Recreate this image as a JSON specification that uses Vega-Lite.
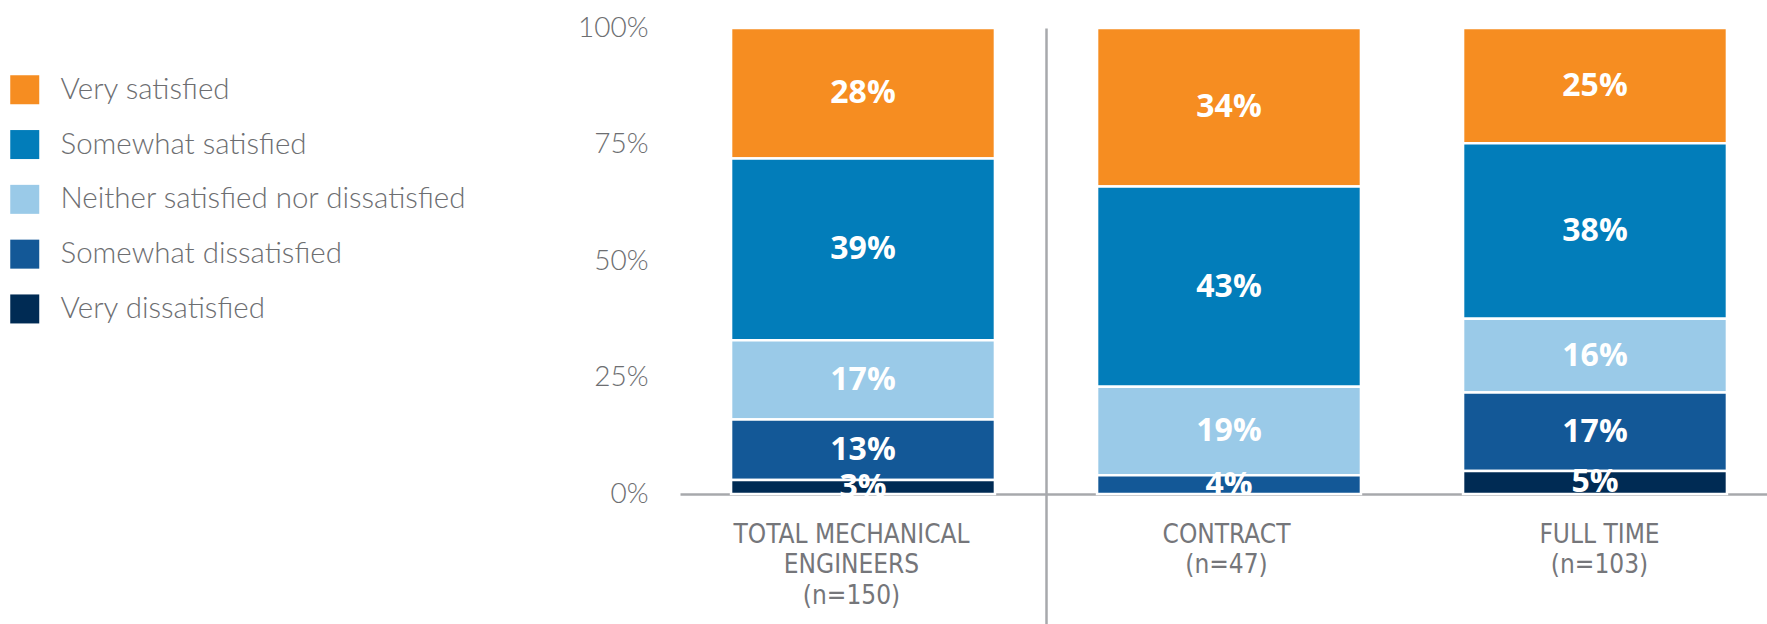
{
  "$schema": "https://vega.github.io/schema/vega-lite/v6.json",
  "autosize": {"type": "none"},
  "padding": {"left": 680, "top": 28, "right": -11, "bottom": 130},
  "width": 1098,
  "height": 466,
  "background": "#ffffff",
  "config": {"view": {"stroke": null}},
  "data": {
    "values": [
      {"group": "TOTAL MECHANICAL|ENGINEERS|(n=150)", "response": "Very satisfied", "level": 5, "share": 0.28},
      {"group": "TOTAL MECHANICAL|ENGINEERS|(n=150)", "response": "Somewhat satisfied", "level": 4, "share": 0.39},
      {"group": "TOTAL MECHANICAL|ENGINEERS|(n=150)", "response": "Neither satisfied nor dissatisfied", "level": 3, "share": 0.17},
      {"group": "TOTAL MECHANICAL|ENGINEERS|(n=150)", "response": "Somewhat dissatisfied", "level": 2, "share": 0.13},
      {"group": "TOTAL MECHANICAL|ENGINEERS|(n=150)", "response": "Very dissatisfied", "level": 1, "share": 0.03},
      {"group": "CONTRACT|(n=47)", "response": "Very satisfied", "level": 5, "share": 0.34},
      {"group": "CONTRACT|(n=47)", "response": "Somewhat satisfied", "level": 4, "share": 0.43},
      {"group": "CONTRACT|(n=47)", "response": "Neither satisfied nor dissatisfied", "level": 3, "share": 0.19},
      {"group": "CONTRACT|(n=47)", "response": "Somewhat dissatisfied", "level": 2, "share": 0.04},
      {"group": "FULL TIME|(n=103)", "response": "Very satisfied", "level": 5, "share": 0.25},
      {"group": "FULL TIME|(n=103)", "response": "Somewhat satisfied", "level": 4, "share": 0.38},
      {"group": "FULL TIME|(n=103)", "response": "Neither satisfied nor dissatisfied", "level": 3, "share": 0.16},
      {"group": "FULL TIME|(n=103)", "response": "Somewhat dissatisfied", "level": 2, "share": 0.17},
      {"group": "FULL TIME|(n=103)", "response": "Very dissatisfied", "level": 1, "share": 0.05}
    ]
  },
  "encoding": {
    "x": {
      "field": "group",
      "type": "nominal",
      "sort": null,
      "scale": {"paddingInner": 0, "paddingOuter": 0},
      "axis": {
        "title": null,
        "labelExpr": "datum.value ? split(datum.value, '|') : ''",
        "labelFont": "DejaVu Sans Condensed",
        "labelFontWeight": "normal",
        "labelFontSize": 26,
        "labelLineHeight": 30.5,
        "labelColor": "#75767a",
        "labelLimit": 400,
        "labelPadding": -103,
        "labelAngle": 0,
        "labelOffset": {"condition": [
          {"test": "datum.value === 'TOTAL MECHANICAL|ENGINEERS|(n=150)'", "value": -12},
          {"test": "datum.value === 'CONTRACT|(n=47)'", "value": -3}
        ], "value": 4},
        "domain": true,
        "domainColor": "#a7a9ac",
        "domainWidth": 2.5,
        "ticks": true,
        "tickBand": "extent",
        "tickSize": 130,
        "tickWidth": 2.5,
        "tickColor": "#a7a9ac",
        "tickOpacity": {"condition": {"test": "datum.value === 'TOTAL MECHANICAL|ENGINEERS|(n=150)'", "value": 1}, "value": 0},
        "grid": true,
        "gridWidth": 2.5,
        "gridColor": "#a7a9ac",
        "gridOpacity": {"condition": {"test": "datum.value === 'TOTAL MECHANICAL|ENGINEERS|(n=150)'", "value": 1}, "value": 0}
      }
    },
    "y": {
      "field": "share",
      "type": "quantitative",
      "stack": "normalize",
      "scale": {"domain": [0, 1]},
      "axis": {
        "title": null,
        "values": [0, 0.25, 0.5, 0.75, 1],
        "format": ".0%",
        "grid": false,
        "domain": false,
        "ticks": false,
        "labelPadding": 32,
        "labelFont": "Lato",
        "labelFontWeight": 300,
        "labelFontSize": 28,
        "labelColor": "#6d6e71"
      }
    },
    "order": {"field": "level", "type": "quantitative", "sort": "ascending"}
  },
  "layer": [
    {
      "mark": {"type": "bar", "stroke": "#ffffff", "strokeWidth": 2.5, "width": {"band": 0.721}},
      "encoding": {
        "color": {
          "field": "response",
          "type": "nominal",
          "scale": {
            "domain": ["Very satisfied", "Somewhat satisfied", "Neither satisfied nor dissatisfied", "Somewhat dissatisfied", "Very dissatisfied"],
            "range": ["#f68d21", "#027dba", "#9acae8", "#135897", "#002b54"]
          },
          "legend": {
            "title": null,
            "orient": "none",
            "legendX": -670,
            "legendY": 47,
            "symbolType": "square",
            "symbolSize": 841,
            "symbolStrokeWidth": 0,
            "symbolOffset": 0,
            "labelOffset": 21,
            "labelFont": "Lato",
            "labelFontWeight": 300,
            "labelFontSize": 29.5,
            "labelColor": "#6d6e71",
            "labelLimit": 500,
            "rowPadding": 23.8
          }
        }
      }
    },
    {
      "mark": {"type": "text", "color": "#ffffff", "font": "Open Sans", "fontWeight": "bold", "fontSize": 32, "baseline": "middle"},
      "encoding": {
        "y": {"field": "share", "type": "quantitative", "stack": "normalize", "bandPosition": 0.5},
        "text": {"field": "share", "type": "quantitative", "format": ".0%"}
      }
    }
  ]
}
